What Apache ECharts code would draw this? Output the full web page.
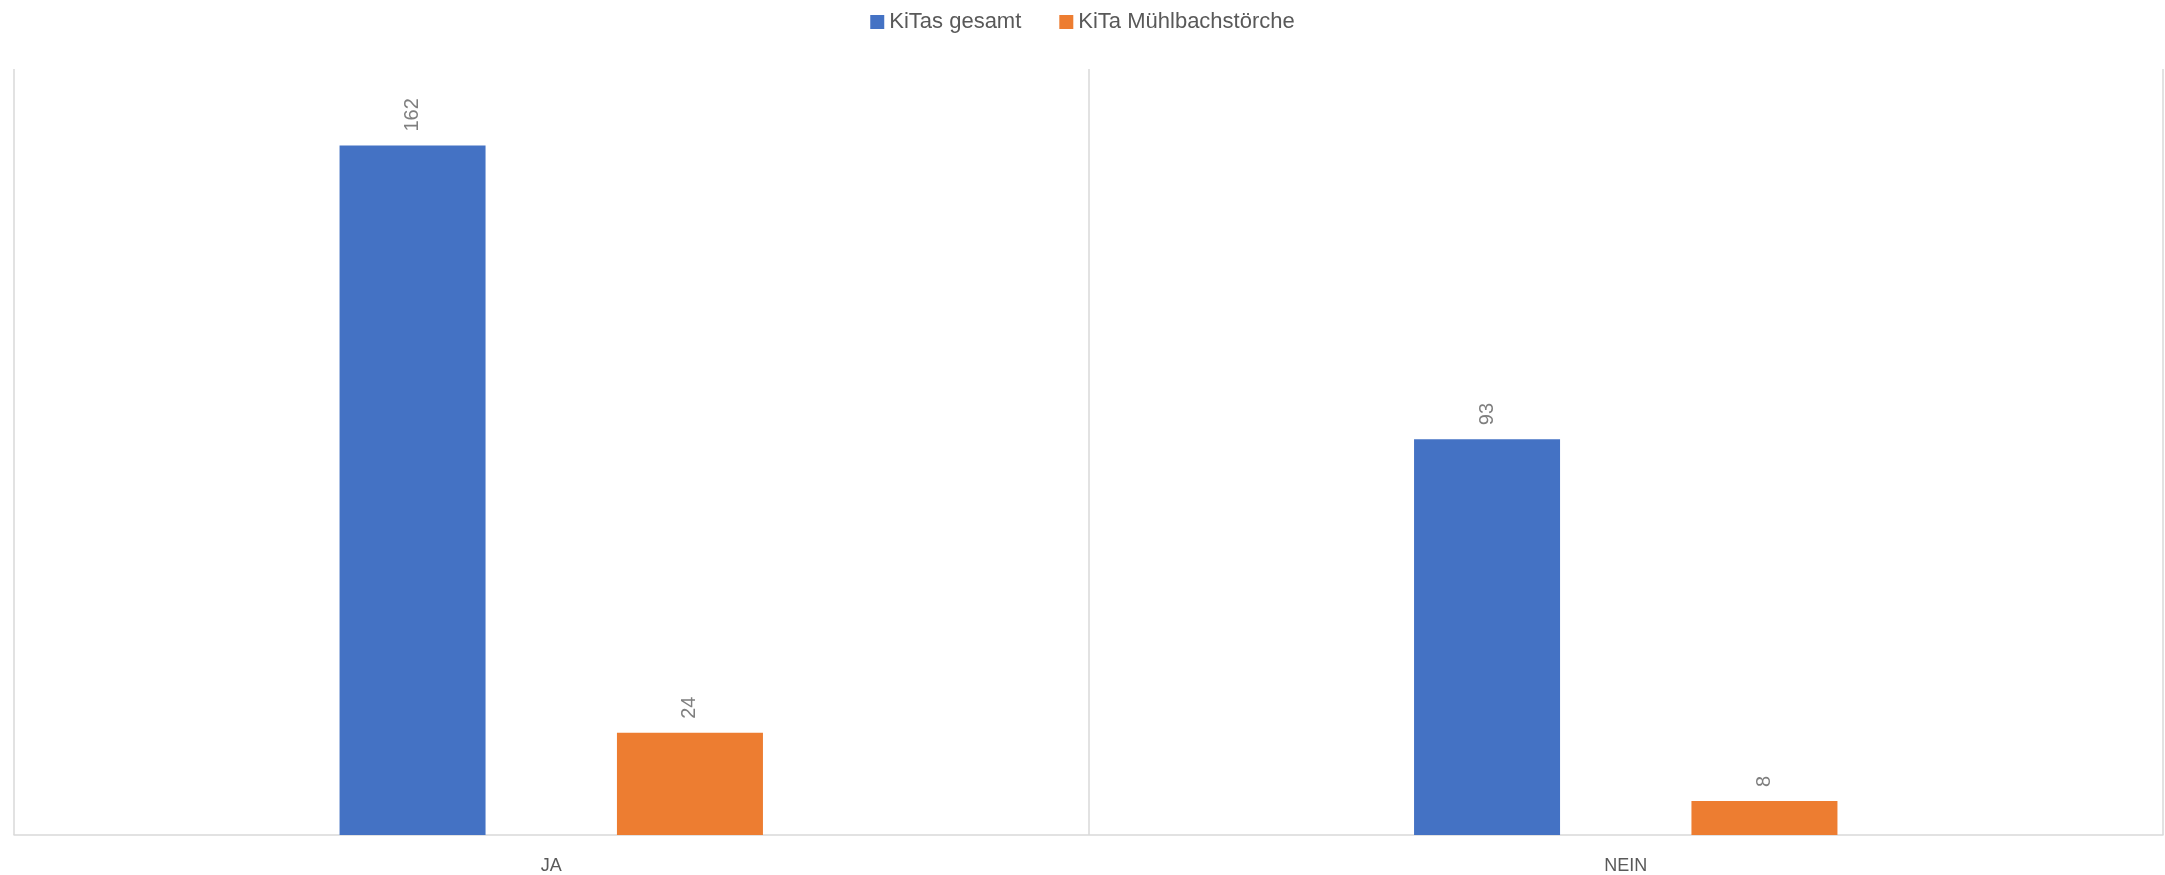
<!DOCTYPE html>
<html>
<head>
<meta charset="utf-8">
<script src="https://cdn.jsdelivr.net/npm/echarts@6/dist/echarts.min.js"></script>
<style>
html,body{margin:0;padding:0;background:#fff;}
#chart{width:2165px;height:875px;}
</style>
</head>
<body>
<div id="chart"></div>
<script>
const categories = ['JA', 'NEIN'];
const seriesNames = ['KiTas gesamt', 'KiTa Mühlbachstörche'];
const kitasGesamt = [162, 93];
const kitaMuehlbach = [24, 8];
const yMax = 180;

const chart = echarts.init(document.getElementById('chart'));
const font = '"Liberation Sans", Arial, sans-serif';
const labelCfg = {
  show: true, position: 'top', rotate: 90, distance: 14,
  align: 'left', verticalAlign: 'middle',
  color: '#7f7f7f', fontSize: 20, fontFamily: font
};
chart.setOption({
  animation: false,
  textStyle: { fontFamily: font },
  legend: {
    top: 6, left: 'center', itemWidth: 14, itemHeight: 14, itemGap: 38,
    icon: 'rect',
    textStyle: { color: '#595959', fontSize: 22, fontFamily: font }
  },
  grid: { left: 14, right: 2, top: 69, bottom: 40, containLabel: false },
  xAxis: {
    type: 'category', data: categories,
    axisLine: { show: true, lineStyle: { color: '#d9d9d9', width: 1.5 } },
    axisTick: { show: false },
    splitLine: { show: true, lineStyle: { color: '#d9d9d9', width: 1.5 } },
    axisLabel: { color: '#595959', fontSize: 18, margin: 22, fontFamily: font }
  },
  yAxis: {
    type: 'value', min: 0, max: yMax, show: false,
    splitLine: { show: false }
  },
  series: [
    { name: seriesNames[0], type: 'bar', data: kitasGesamt, barWidth: 146, barGap: '90%',
      itemStyle: { color: '#4472c4' }, label: labelCfg },
    { name: seriesNames[1], type: 'bar', data: kitaMuehlbach, barWidth: 146, barGap: '90%',
      itemStyle: { color: '#ed7d31' }, label: labelCfg }
  ]
});
</script>
</body>
</html>
